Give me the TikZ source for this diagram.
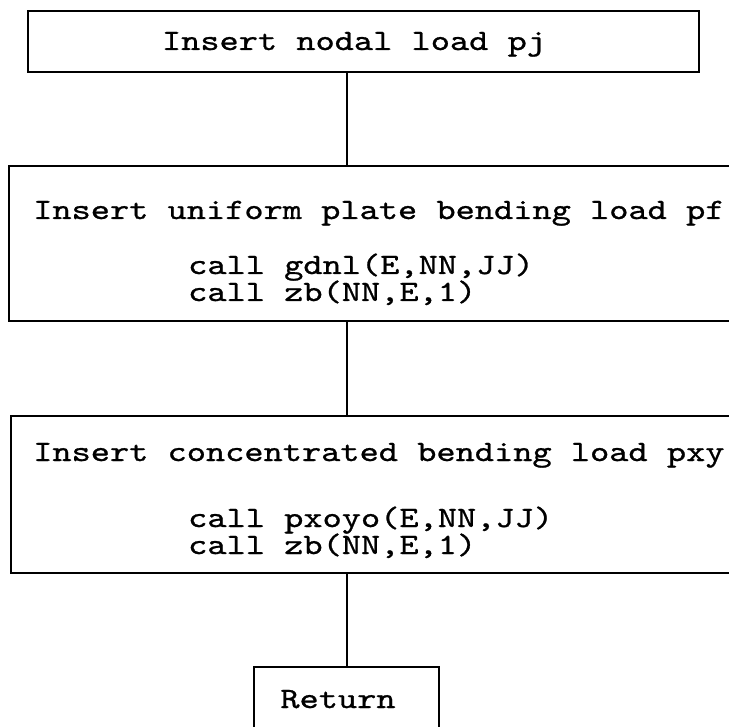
\documentclass[tikz,border=0pt]{standalone}
\usepackage{fontspec}
\newfontfamily\courfont{lmmono10-regular.otf}[FakeStretch=1.24,FakeBold=0.9]
\begin{document}
\begin{tikzpicture}[x=1pt,y=-1pt,
  box/.style={draw, line width=2.4pt, inner sep=0pt, anchor=north west},
  conn/.style={line width=2.2pt},
  txt/.style={inner sep=0pt, font=\fontsize{29.5}{34}\courfont},
  ltxt/.style={txt, anchor=base west},
  ctxt/.style={txt, anchor=base}]
\useasboundingbox (0,0) rectangle (729,727);
\clip (0,0) rectangle (729,727);
% boxes
\node[box, minimum width=671pt, minimum height=61pt] (b1) at (27,10) {};
\node[box, minimum width=740pt, minimum height=155pt] (b2) at (8,165) {};
\node[box, minimum width=740pt, minimum height=157pt] (b3) at (10,415) {};
\node[box, minimum width=185pt, minimum height=90pt] (b4) at (253,666) {};
% texts
\node[ctxt] (t1) at (354,50) {Insert nodal load pj};
\node[ltxt] (t2a) at (33,219) {Insert uniform plate bending load pf};
\node[ltxt] (t2b) at (188,274) {call gdnl(E,NN,JJ)};
\node[ltxt] (t2c) at (188,301) {call zb(NN,E,1)};
\node[ltxt] (t3a) at (33,461) {Insert concentrated bending load pxy};
\node[ltxt] (t3b) at (188,527) {call pxoyo(E,NN,JJ)};
\node[ltxt] (t3c) at (188,554) {call zb(NN,E,1)};
\node[ctxt] (t4) at (338,708) {Return};
% connectors
\draw[conn] (b4.north |- b1.south) -- (b4.north |- b2.north);
\draw[conn] (b4.north |- b2.south) -- (b4.north |- b3.north);
\draw[conn] (b3.south -| b4.north) -- (b4.north);
\end{tikzpicture}
\end{document}
